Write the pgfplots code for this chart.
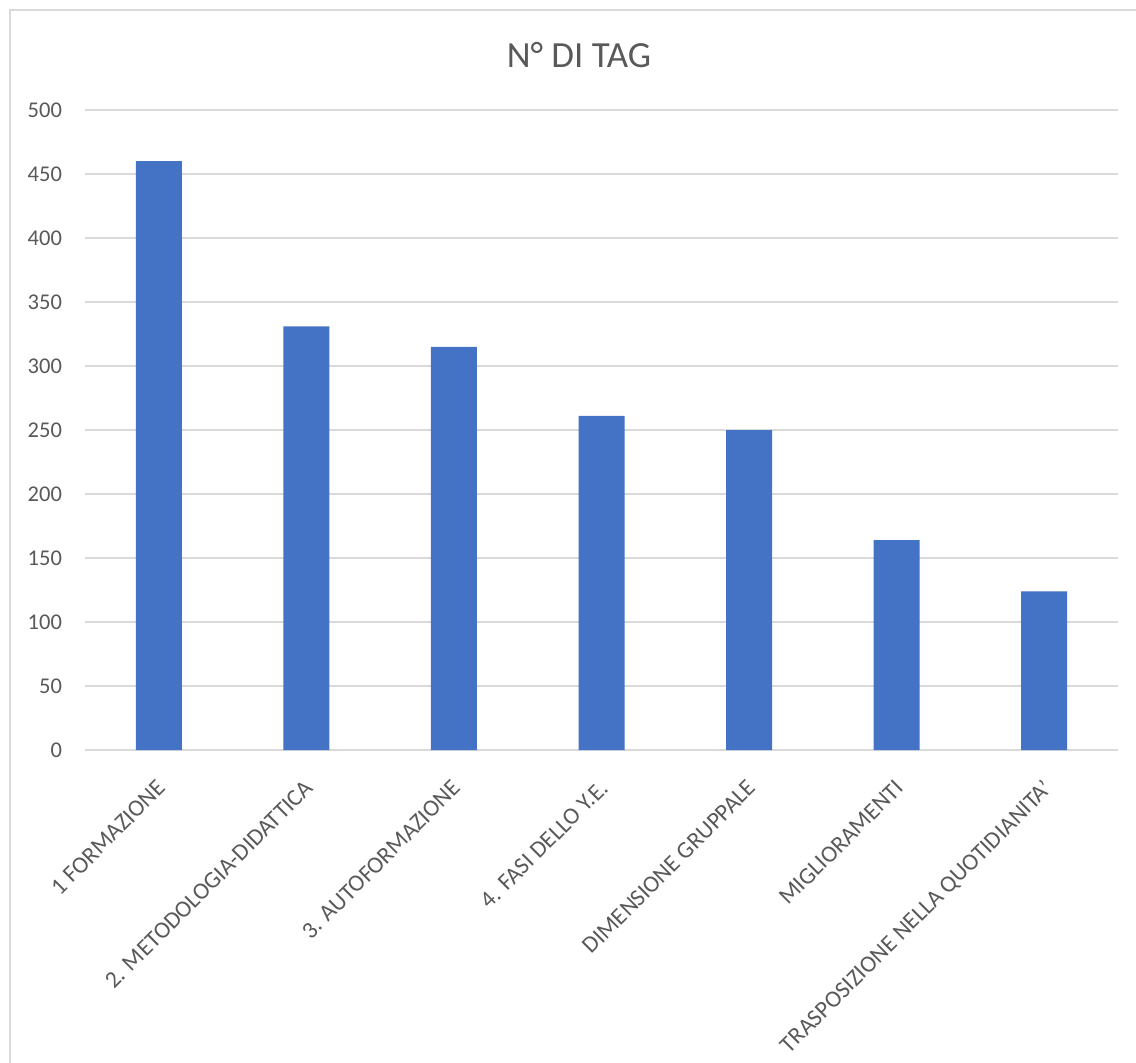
\documentclass[border=0pt]{standalone}
\usepackage{fontspec}
\setmainfont{Carlito}
\usepackage{pgfplots}
\pgfplotsset{compat=1.18}
\definecolor{barblue}{HTML}{4472C4}
\definecolor{gridgray}{HTML}{D9D9D9}
\definecolor{txtgray}{HTML}{595959}
\begin{document}
\begin{tikzpicture}
\useasboundingbox (-42.5bp,-156.5bp) rectangle (525.5bp,375bp);
\draw[gridgray, line width=0.8bp] (-37.5bp,-300bp) rectangle (600bp,370bp);
\begin{axis}[
  at={(0,0)}, anchor=south west,
  scale only axis,
  width=516.5bp, height=320bp,
  xmin=-0.5, xmax=6.5,
  ymin=0, ymax=500,
  ytick={0,50,...,500},
  xtick={0,1,2,3,4,5,6},
  xticklabels={1 FORMAZIONE, 2. METODOLOGIA-DIDATTICA, 3. AUTOFORMAZIONE, 4. FASI DELLO Y.E., DIMENSIONE GRUPPALE, MIGLIORAMENTI, TRASPOSIZIONE NELLA QUOTIDIANITA'},
  axis line style={draw=none},
  major tick style={draw=none},
  ymajorgrids,
  grid style={gridgray, line width=0.8bp},
  /pgf/number format/assume math mode=true,
  yticklabel style={font=\fontsize{11.3}{13}\selectfont, text=txtgray, anchor=east, xshift=-8bp},
  xticklabel style={font=\fontsize{11.9}{14}\selectfont, text=txtgray, rotate=45, anchor=north east, xshift=-10bp, yshift=-8bp, inner sep=1bp},
  title={N° DI TAG},
  title style={font=\fontsize{18.5}{22}\selectfont, text=txtgray, at={(0.5,1)}, anchor=center, xshift=-11.25bp, yshift=21.5bp},
  clip=false,
]
\addplot[ybar, bar width=23bp, fill=barblue, draw=none] coordinates {
  (0,460) (1,331) (2,315) (3,261) (4,250) (5,164) (6,124)
};
\end{axis}
\end{tikzpicture}
\end{document}
